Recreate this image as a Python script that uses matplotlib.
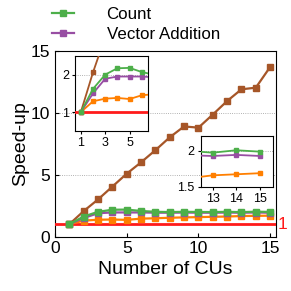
import matplotlib
matplotlib.use("Agg")
import matplotlib.pyplot as plt

plt.rcParams["font.family"] = ["Liberation Sans", "DejaVu Sans"]

cus = list(range(1, 16))
brown_vals = [1.0, 2.06, 3.0, 4.04, 5.08, 6.0, 6.98, 8.02, 8.9, 8.8,
              9.86, 10.95, 11.9, 12.03, 13.7]
count_vals = [1.0, 1.62, 2.0, 2.17, 2.18, 2.07, 2.0, 1.98, 2.0, 1.99,
              1.98, 2.0, 1.976, 2.01, 1.99]
vecadd_vals = [1.0, 1.5, 1.89, 1.95, 1.95, 1.95, 1.93, 1.93, 1.94, 1.93,
               1.93, 1.94, 1.93, 1.945, 1.93]
orange_vals = [1.0, 1.29, 1.36, 1.38, 1.35, 1.45, 1.48, 1.52, 1.55, 1.57,
               1.6, 1.62, 1.66, 1.675, 1.69]

BROWN = "#a65628"
GREEN = "#4daf4a"
PURPLE = "#984ea3"
ORANGE = "#ff7f00"
RED = "#ff1a1a"

series = [
    (brown_vals, BROWN, None),
    (orange_vals, ORANGE, None),
    (vecadd_vals, PURPLE, "Vector Addition"),
    (count_vals, GREEN, "Count"),
]

fig = plt.figure(figsize=(2.91, 2.91), dpi=100)
ax = fig.add_axes([0.189, 0.187, 0.759, 0.638])


def draw(a, lw=1.6, ms=3.8):
    a.axhline(1, color=RED, lw=2.0, zorder=3)
    handles = {}
    for vals, color, label in series:
        (ln,) = a.plot(cus, vals, color=color, marker="s", lw=lw, ms=ms,
                       zorder=4, label=label)
        if label:
            handles[label] = ln
    return handles


handles = draw(ax)
ax.set_xlim(0, 15.4)
ax.set_ylim(0, 15)
ax.set_xticks([0, 5, 10, 15])
ax.set_yticks([0, 5, 10, 15])
ax.tick_params(direction="in", labelsize=12.5, length=3)
for y in (5, 10):
    ax.axhline(y, color="#999999", lw=0.6, ls=":", zorder=1)
ax.set_xlabel("Number of CUs", fontsize=14, labelpad=3)
ax.set_ylabel("Speed-up", fontsize=14, labelpad=1)
ax.text(15.55, 1.0, "1", color=RED, fontsize=12.5, ha="left", va="center",
        clip_on=False)

# inset: first CUs
ins1 = fig.add_axes([0.258, 0.55, 0.25, 0.258])
draw(ins1, lw=1.3, ms=3.0)
ins1.set_xlim(0.53, 6.5)
ins1.set_ylim(0.5, 2.5)
ins1.set_xticks([1, 3, 5])
ins1.set_yticks([1, 2])
ins1.axhline(2, color="#999999", lw=0.6, ls=":", zorder=1)
ins1.tick_params(labelsize=9, length=2.5, pad=2)

# inset: last CUs
ins2 = fig.add_axes([0.69, 0.358, 0.247, 0.175])
draw(ins2, lw=1.3, ms=3.0)
ins2.set_xlim(12.5, 15.53)
ins2.set_ylim(1.5, 2.21)
ins2.set_xticks([13, 14, 15])
ins2.set_yticks([1.5, 2])
ins2.set_yticklabels(["1.5", "2"])
ins2.axhline(2, color="#999999", lw=0.6, ls=":", zorder=1)
ins2.tick_params(labelsize=9, length=2.5, pad=2)

fig.legend([handles["Count"], handles["Vector Addition"]],
           ["Count", "Vector Addition"], loc="upper left",
           bbox_to_anchor=(0.18, 0.975), frameon=False, fontsize=12.2,
           handlelength=1.3, handletextpad=1.9, labelspacing=0.3,
           borderpad=0.0, borderaxespad=0.0)

fig.savefig("out.png", dpi=100)
